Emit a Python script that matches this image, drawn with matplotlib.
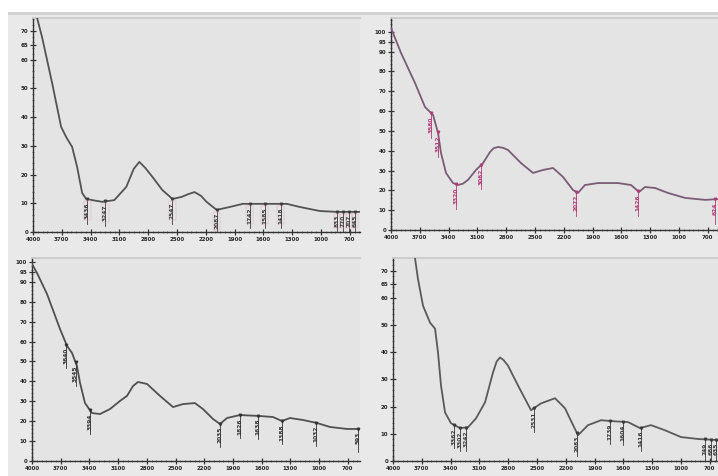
import numpy as np
import matplotlib
matplotlib.use("Agg")
import matplotlib.pyplot as plt
from matplotlib.patches import Rectangle
from matplotlib.ticker import MultipleLocator

# ---- spectra (wavenumber, cm-1 / transmittance-like signal) ----
p1_wn = [4000, 3906, 3801, 3707, 3655, 3592, 3540, 3488, 3446, 3383, 3279, 3153,
         3028, 2950, 2892, 2830, 2756, 2652, 2547, 2453, 2380, 2317, 2250, 2192,
         2087, 1951, 1815, 1711, 1565, 1355, 1219, 1010, 833, 593]
p1_val = [80.0, 67.9, 51.9, 36.6, 33.1, 29.6, 22.6, 13.6, 11.5, 11.1, 10.5, 11.1,
          15.7, 22.0, 24.4, 22.3, 19.2, 14.6, 11.5, 12.2, 13.2, 13.9, 12.6, 10.5,
          7.7, 8.7, 9.8, 9.8, 9.8, 9.8, 8.7, 7.3, 7.0, 7.0]
p1_peaks = [3436, 3247, 2547, 2087, 1742, 1585, 1418, 833, 770, 707, 645]

p2_wn = [4000, 3896, 3750, 3646, 3562, 3510, 3479, 3427, 3354, 3302, 3250, 3198,
         3114, 3041, 2968, 2930, 2885, 2835, 2781, 2646, 2520, 2416, 2312, 2208,
         2104, 2052, 1979, 1843, 1635, 1499, 1416, 1353, 1249, 1114, 937, 728, 593]
p2_val = [102.0, 89.4, 74.2, 62.1, 58.1, 49.0, 38.9, 28.8, 23.7, 22.7, 23.4, 25.3,
          30.3, 33.8, 39.4, 41.3, 41.9, 41.5, 40.4, 33.8, 28.8, 30.3, 31.3, 26.8,
          20.2, 18.7, 22.7, 23.7, 23.7, 22.7, 19.2, 21.7, 21.2, 18.7, 16.2, 15.2, 15.6]
p2_peaks = [3580, 3512, 3320, 3062, 2072, 1426, 624]

p3_wn = [4000, 3948, 3843, 3707, 3634, 3582, 3530, 3498, 3446, 3373, 3289, 3185,
         3080, 3007, 2944, 2892, 2798, 2662, 2526, 2422, 2297, 2213, 2108, 2035,
         1962, 1826, 1617, 1482, 1388, 1304, 1168, 1022, 886, 708, 572]
p3_val = [99.0, 94.5, 83.9, 66.3, 57.8, 54.3, 47.7, 39.2, 29.1, 24.1, 23.6, 26.1,
          30.2, 32.7, 37.7, 39.7, 38.7, 32.7, 27.1, 28.6, 29.1, 26.1, 21.1, 18.6,
          21.6, 23.1, 22.6, 22.1, 20.1, 21.6, 20.6, 19.1, 17.1, 16.1, 16.1]
p3_peaks = [3640, 3545, 3394, 2035, 1826, 1638, 1388, 1032, 593]

p4_wn = [3810, 3771, 3740, 3687, 3614, 3562, 3531, 3500, 3458, 3396, 3302, 3219,
         3135, 3041, 2958, 2920, 2885, 2850, 2802, 2698, 2562, 2458, 2312, 2208,
         2124, 2072, 1968, 1833, 1687, 1551, 1426, 1312, 1166, 999, 822, 613]
p4_val = [85.0, 74.7, 67.0, 57.1, 50.9, 48.7, 39.9, 27.8, 17.9, 13.9, 12.1, 12.4,
          15.7, 21.6, 32.6, 36.6, 38.1, 37.2, 35.1, 27.8, 18.7, 21.2, 23.1, 19.4,
          13.2, 9.5, 13.2, 15.0, 14.6, 14.3, 12.1, 13.2, 11.3, 8.8, 8.1, 7.7]
p4_peaks = [3362, 3302, 3242, 2531, 2083, 1739, 1604, 1416, 749, 686, 635]

x_ticks = [4000, 3700, 3400, 3100, 2800, 2500, 2200, 1900, 1600, 1300, 1000, 700]
y_ticks_a = [0, 10, 20, 30, 40, 50, 60, 65, 70]
y_ticks_b = [0, 10, 20, 30, 40, 50, 60, 70, 80, 90, 95, 100]

W, H = 718, 476
fig = plt.figure(figsize=(W / 100, H / 100), dpi=100, facecolor="white")

# grey backdrop behind the four panels
fig.patches.append(Rectangle((8 / W, 0), 1 - 8 / W, (H - 12) / H,
                             transform=fig.transFigure, facecolor="#e9e9e9",
                             edgecolor="none", zorder=-10))
fig.patches.append(Rectangle((8 / W, (H - 15) / H), 1 - 8 / W, 3 / H,
                             transform=fig.transFigure, facecolor="#d2d2d2",
                             edgecolor="none", zorder=-10))


def add_axes(left, right, top, bottom):
    return fig.add_axes([left / W, (H - bottom) / H, (right - left) / W, (bottom - top) / H])


def style(ax, xmin, ymax, yticks):
    ax.set_facecolor("#e4e4e4")
    ax.set_xlim(4000, xmin)
    ax.set_ylim(0, ymax)
    ax.set_xticks(x_ticks)
    ax.set_xticklabels([str(v) for v in x_ticks])
    ax.set_yticks(yticks)
    ax.set_yticklabels([str(v) for v in yticks])
    ax.xaxis.set_minor_locator(MultipleLocator(50))
    ax.yaxis.set_minor_locator(MultipleLocator(2))
    ax.tick_params(which="major", direction="inout", length=4, width=0.9,
                   color="#333333", labelsize=4.0, labelcolor="#262626", pad=1.5)
    ax.tick_params(which="minor", direction="inout", length=2, width=0.5, color="#555555")
    for lab in ax.get_xticklabels() + ax.get_yticklabels():
        lab.set_fontweight("bold")
    for side in ("left", "bottom"):
        ax.spines[side].set_color("#333333")
        ax.spines[side].set_linewidth(1.0)
    ax.spines["top"].set_color("#c8c8c8")
    ax.spines["top"].set_linewidth(1.2)
    ax.spines["right"].set_visible(False)


def draw(ax, wn, val, peaks, line_col, lab_col, box_col=None):
    ax.plot(wn, val, color=line_col, lw=1.3, solid_capstyle="round",
            solid_joinstyle="round", zorder=3)
    xs = np.array(wn[::-1], dtype=float)
    ys = np.array(val[::-1], dtype=float)
    ymax = ax.get_ylim()[1]
    for p in peaks:
        y = float(np.interp(p, xs, ys))
        top = y - 0.015 * ymax
        ax.plot([p, p], [y, max(top - 0.10 * ymax, 0)], color=lab_col, lw=0.6, zorder=4)
        ax.plot([p], [y], marker="v", ms=1.8, color=lab_col, zorder=5)
        kw = dict(rotation=90, ha="center", va="top", fontsize=4.2,
                  fontweight="bold", color=lab_col, zorder=6)
        if box_col:
            kw["bbox"] = dict(boxstyle="square,pad=0.15", fc="none", ec=box_col, lw=0.3)
        ax.text(p, top, str(p), **kw)


ax1 = add_axes(33, 360, 18, 232)
style(ax1, 593, 74.5, y_ticks_a)
draw(ax1, p1_wn, p1_val, p1_peaks, "#535353", "#3c3c3c", box_col="#e6a8b8")

ax2 = add_axes(391, 718, 18, 230)
style(ax2, 593, 107, y_ticks_b)
draw(ax2, p2_wn, p2_val, p2_peaks, "#7a5c76", "#b23c78")

ax3 = add_axes(32, 360, 258, 461)
style(ax3, 572, 102, y_ticks_b)
draw(ax3, p3_wn, p3_val, p3_peaks, "#505050", "#333333")

ax4 = add_axes(393, 718, 258, 461)
style(ax4, 614, 74.7, y_ticks_a)
draw(ax4, p4_wn, p4_val, p4_peaks, "#5a5a5a", "#3a3a3a")

fig.savefig("out.png", dpi=100, facecolor=fig.get_facecolor())
